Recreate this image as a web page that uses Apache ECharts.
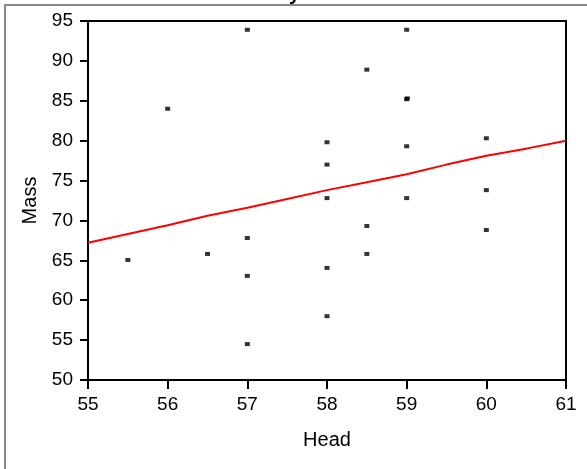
<!DOCTYPE html>
<html lang="en">
<head>
    <meta charset="UTF-8">
    <title>Mass vs Head</title>
    <script src="https://cdn.jsdelivr.net/npm/echarts@6/dist/echarts.min.js"></script>
    <style>
        html, body { margin: 0; padding: 0; background: #fff; }
        #chart { width: 587px; height: 469px; }
    </style>
</head>
<body>
<div id="chart"></div>
<script>
    // observations
    var head = [57, 59, 56, 58.5, 59, 59.008, 58, 59, 60, 58, 58, 59, 60, 60, 58.5, 58.5, 57, 56.5, 55.5, 57, 58, 58, 57];
    var mass = [93.9, 93.9, 84, 88.9, 85.2, 85.3, 79.8, 79.3, 80.3, 77, 72.8, 72.8, 73.8, 68.8, 69.3, 65.8, 67.8, 65.8, 65.05, 63.05, 64.05, 58, 54.5];

    // fitted curve (red)
    var fitHead = [55, 55.5, 56, 56.5, 57, 57.5, 58, 58.5, 59, 59.5, 60, 60.5, 61];
    var fitMass = [67.2, 68.3, 69.4, 70.6, 71.6, 72.7, 73.8, 74.8, 75.8, 77.0, 78.1, 79.0, 80.0];

    var pts = head.map(function (h, i) { return [h, mass[i]]; });
    var fit = fitHead.map(function (h, i) { return [h, fitMass[i]]; });

    var font = 'Liberation Sans, Arial, sans-serif';
    var chart = echarts.init(document.getElementById('chart'));

    chart.setOption({
        animation: false,
        backgroundColor: '#fff',
        grid: {
            left: 88, right: 21, top: 21, bottom: 89,
            show: true, borderColor: '#000', borderWidth: 2
        },
        graphic: [
            {
                type: 'rect', silent: true, z: -1,
                shape: { x: 5, y: 5, width: 640, height: 520 },
                style: { fill: 'none', stroke: '#888', lineWidth: 2 }
            },
            {
                type: 'text', silent: true, left: 289, top: -16,
                style: { text: 'y', font: 'bold 20px ' + font, fill: '#000' }
            }
        ],
        xAxis: {
            type: 'value', min: 55, max: 61, interval: 1,
            name: 'Head', nameLocation: 'middle', nameGap: 50,
            nameTextStyle: { color: '#000', fontSize: 20, fontFamily: font },
            axisLine: { show: true, lineStyle: { color: '#000', width: 2 } },
            axisTick: { show: true, inside: false, length: 9, lineStyle: { color: '#000', width: 2 } },
            axisLabel: { color: '#000', fontSize: 19, fontFamily: font, margin: 15 },
            splitLine: { show: false }
        },
        yAxis: {
            type: 'value', min: 50, max: 95, interval: 5,
            name: 'Mass', nameLocation: 'middle', nameGap: 46,
            nameTextStyle: { color: '#000', fontSize: 20, fontFamily: font },
            axisLine: { show: true, lineStyle: { color: '#000', width: 2 } },
            axisTick: { show: true, inside: false, length: 8, lineStyle: { color: '#000', width: 2 } },
            axisLabel: { color: '#000', fontSize: 19, fontFamily: font, margin: 15 },
            splitLine: { show: false }
        },
        series: [
            {
                type: 'line', data: fit, showSymbol: false, symbol: 'none',
                lineStyle: { color: '#ff0000', width: 2 }, z: 2
            },
            {
                type: 'scatter', data: pts, symbol: 'rect', symbolSize: [5, 4],
                itemStyle: { color: '#000' }, z: 3
            }
        ]
    });
</script>
</body>
</html>
